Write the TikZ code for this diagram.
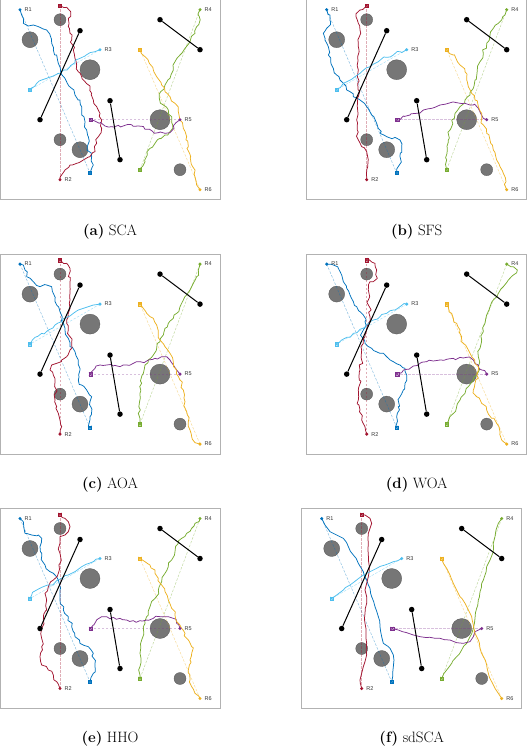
\documentclass[tikz,border=0pt]{standalone}
\usepackage{fontspec}
\newfontfamily\lblfont{Liberation Sans}
\usetikzlibrary{decorations.pathmorphing}
\definecolor{cA}{RGB}{0,114,189}
\definecolor{cB}{RGB}{162,20,47}
\definecolor{cC}{RGB}{77,190,238}
\definecolor{cD}{RGB}{119,172,48}
\definecolor{cE}{RGB}{126,47,142}
\definecolor{cF}{RGB}{237,177,32}
\definecolor{obsfill}{RGB}{118,118,118}
\definecolor{obsedge}{RGB}{85,85,85}
\tikzset{
  panelbox/.style={draw=black!30, line width=0.8pt},
  obst/.style={circle, fill=obsfill, draw=obsedge, line width=0.3pt, inner sep=0pt, minimum size=#1},
  bdot/.style={circle, fill=black, inner sep=0pt, minimum size=5.5pt},
  bseg/.style={line width=1pt, black},
  sdot/.style={circle, fill=#1, inner sep=0pt, minimum size=3.4pt},
  gmark/.style={rectangle, draw=#1, fill=#1!40, inner sep=0pt, minimum size=3.2pt, line width=0.4pt,
    path picture={\draw[#1, line width=0.6pt] (path picture bounding box.south west) -- (path picture bounding box.north east)
      (path picture bounding box.north west) -- (path picture bounding box.south east);}},
  dashln/.style={draw=#1, line width=0.5pt, dash pattern=on 2.5pt off 1.5pt, opacity=0.45},
  rpath/.style={draw=#1, line width=0.75pt, line join=round, decorate,
    decoration={random steps, segment length=4pt, amplitude=1.8pt}},
  spath/.style={draw=#1, line width=0.75pt, line join=round, decorate,
    decoration={random steps, segment length=5pt, amplitude=0.7pt}},
  lbl/.style={font=\lblfont\fontsize{5.5}{6}\selectfont, inner sep=0pt, anchor=west, text=black!80},
  capt/.style={font=\fontsize{15}{18}\selectfont, inner sep=0pt}
}
\newcommand\scenebase[1]{%
  \draw[panelbox] (0,0) rectangle (220,200);
  \node[obst=12pt] (#1o1) at (60,20) {};
  \node[obst=16pt] (#1o2) at (30,40) {};
  \node[obst=20pt] (#1o3) at (90,70) {};
  \node[obst=12pt] (#1o4) at (60,140) {};
  \node[obst=16pt] (#1o5) at (80,150) {};
  \node[obst=20pt] (#1o6) at (160,120) {};
  \node[obst=12pt] (#1o7) at (180,170) {};
  \coordinate (#1S1) at (20,10);   \coordinate (#1G1) at (90,173.3);
  \coordinate (#1S2) at (60,180);  \coordinate (#1G2) at (60,6);
  \coordinate (#1S3) at (100,50);  \coordinate (#1G3) at (30,90);
  \coordinate (#1S4) at (200,10);  \coordinate (#1G4) at (140,170);
  \coordinate (#1S5) at (180,120); \coordinate (#1G5) at (90.5,120);
  \coordinate (#1S6) at (200,190); \coordinate (#1G6) at (140,50);
  \draw[dashln=cA] (#1S1) -- (#1G1);
  \draw[dashln=cB, opacity=0.35] (#1S2) -- (#1G2);
  \draw[dashln=cC] (#1S3) -- (#1G3);
  \draw[dashln=cD] (#1S4) -- (#1G4);
  \draw[dashln=cE, line width=0.9pt, opacity=0.3] (#1S5) -- (#1G5);
  \draw[dashln=cF] (#1S6) -- (#1G6);
}
\newcommand\scenetop[1]{%
  \node[bdot] (#1b1a) at (40,120) {}; \node[bdot] (#1b1b) at (80,31) {};
  \node[bdot] (#1b2a) at (110,101) {}; \node[bdot] (#1b2b) at (120,160) {};
  \node[bdot] (#1b3a) at (160,20) {}; \node[bdot] (#1b3b) at (200,50) {};
  \draw[bseg] (#1b1a) -- (#1b1b);
  \draw[bseg] (#1b2a) -- (#1b2b);
  \draw[bseg] (#1b3a) -- (#1b3b);
  \node[gmark=cA] (#1g1) at (#1G1) {};
  \node[gmark=cB] (#1g2) at (#1G2) {};
  \node[gmark=cC] (#1g3) at (#1G3) {};
  \node[gmark=cD] (#1g4) at (#1G4) {};
  \node[gmark=cE] (#1g5) at (#1G5) {};
  \node[gmark=cF] (#1g6) at (#1G6) {};
  \node[sdot=cA] (#1s1) at (#1S1) {};
  \node[sdot=cB] (#1s2) at (#1S2) {};
  \node[sdot=cC] (#1s3) at (#1S3) {};
  \node[sdot=cD] (#1s4) at (#1S4) {};
  \node[sdot=cE] (#1s5) at (#1S5) {};
  \node[sdot=cF] (#1s6) at (#1S6) {};
  \node[lbl] (#1l1) at ([xshift=4.5pt]#1S1) {R1};
  \node[lbl] (#1l2) at ([xshift=4.5pt]#1S2) {R2};
  \node[lbl] (#1l3) at ([xshift=4.5pt]#1S3) {R3};
  \node[lbl] (#1l4) at ([xshift=4.5pt]#1S4) {R4};
  \node[lbl] (#1l5) at ([xshift=4.5pt]#1S5) {R5};
  \node[lbl] (#1l6) at ([xshift=4.5pt]#1S6) {R6};
}
\begin{document}
\begin{tikzpicture}[x=1pt,y=-1pt]
\pgfmathsetseed{4242}
\useasboundingbox (0,0) rectangle (527,747);
% ---------------- (a) SCA
\begin{scope}[shift={(0,-0.3)}]
\scenebase{a}
\begin{scope}[shift={(0,0.3)},scale=1/3]
\draw[rpath=cA] (aS1) -- (65,45) -- (70,70) -- (85,78) -- (100,75) -- (120,82) -- (140,90) -- (150,105) -- (155,130) -- (160,150) -- (170,165) -- (175,190) -- (182,215) -- (195,235) -- (202,250) -- (215,265) -- (225,285) -- (240,300) -- (245,320) -- (245,345) -- (255,365) -- (260,390) -- (265,410) -- (262,440) -- (275,470) -- (280,495) -- (aG1);
\draw[rpath=cB] (aS2) -- (195,510) -- (210,495) -- (230,490) -- (250,480) -- (270,470) -- (285,455) -- (290,430) -- (295,410) -- (305,385) -- (305,360) -- (300,340) -- (290,320) -- (280,300) -- (275,280) -- (270,258) -- (255,245) -- (245,230) -- (235,215) -- (230,195) -- (225,175) -- (220,150) -- (215,120) -- (210,100) -- (205,80) -- (205,55) -- (212,35) -- (200,22) -- (aG2);
\draw[rpath=cC] (aS3) -- (285,155) -- (270,158) -- (255,168) -- (240,175) -- (225,188) -- (210,200) -- (190,210) -- (175,220) -- (160,228) -- (140,235) -- (125,240) -- (110,250) -- (95,262) -- (aG3);
\draw[rpath=cD] (aS4) -- (598,50) -- (590,80) -- (585,100) -- (570,125) -- (555,145) -- (540,165) -- (525,185) -- (520,210) -- (510,235) -- (495,255) -- (482,275) -- (478,295) -- (490,315) -- (505,330) -- (515,350) -- (518,375) -- (510,395) -- (495,405) -- (480,415) -- (465,430) -- (450,445) -- (442,465) -- (435,485) -- (425,500) -- (aG4);
\draw[rpath=cE] (aS5) -- (528,368) -- (522,385) -- (510,398) -- (495,400) -- (475,398) -- (455,392) -- (435,388) -- (415,378) -- (395,374) -- (375,376) -- (355,376) -- (335,380) -- (315,378) -- (298,370) -- (282,362) -- (aG5);
\draw[rpath=cF] (aS6) -- (590,555) -- (585,530) -- (578,500) -- (572,470) -- (565,440) -- (560,410) -- (550,385) -- (540,360) -- (535,335) -- (525,310) -- (510,290) -- (495,275) -- (485,255) -- (470,230) -- (460,210) -- (448,190) -- (435,170) -- (aG6);
\end{scope}
\scenetop{a}
\end{scope}
\node[capt] (capa) at (110,232) {\textbf{(a)} SCA};
% ---------------- (b) SFS
\begin{scope}[shift={(306.7,-0.3)}]
\scenebase{b}
\begin{scope}[shift={(-46.7,0.3)},scale=1/3]
\draw[rpath=cA] (bS1) -- (210,45) -- (212,65) -- (200,85) -- (190,100) -- (195,120) -- (205,140) -- (205,165) -- (212,185) -- (220,205) -- (230,225) -- (240,240) -- (258,258) -- (270,275) -- (280,290) -- (300,300) -- (320,320) -- (335,345) -- (350,370) -- (360,400) -- (380,410) -- (405,412) -- (420,420) -- (425,440) -- (420,470) -- (418,495) -- (bG1);
\draw[rpath=cB] (bS2) -- (320,510) -- (325,480) -- (320,455) -- (305,440) -- (295,420) -- (292,390) -- (290,360) -- (292,320) -- (295,290) -- (293,250) -- (295,210) -- (293,170) -- (295,140) -- (298,110) -- (300,90) -- (295,70) -- (288,50) -- (300,30) -- (bG2);
\draw[rpath=cC] (bS3) -- (420,155) -- (400,165) -- (380,172) -- (355,185) -- (330,200) -- (305,215) -- (285,230) -- (265,243) -- (250,250) -- (235,262) -- (bG3);
\draw[rpath=cD] (bS4) -- (735,45) -- (725,60) -- (715,70) -- (700,85) -- (690,105) -- (680,130) -- (670,160) -- (660,185) -- (652,210) -- (645,240) -- (640,265) -- (630,285) -- (615,300) -- (600,320) -- (585,340) -- (575,360) -- (570,390) -- (565,420) -- (562,450) -- (560,480) -- (bG4);
\draw[rpath=cE] (bS5) -- (670,355) -- (662,340) -- (655,325) -- (640,315) -- (615,310) -- (590,308) -- (565,310) -- (540,315) -- (515,325) -- (490,330) -- (470,340) -- (450,345) -- (430,348) -- (bG5);
\draw[rpath=cF] (bS6) -- (738,545) -- (730,520) -- (720,500) -- (710,480) -- (700,450) -- (690,420) -- (680,400) -- (670,375) -- (665,355) -- (665,340) -- (655,320) -- (645,300) -- (635,280) -- (625,260) -- (620,240) -- (615,215) -- (600,195) -- (590,180) -- (580,165) -- (bG6);
\end{scope}
\scenetop{b}
\end{scope}
\node[capt] (capb) at (416.7,232) {\textbf{(b)} SFS};
% ---------------- (c) AOA
\begin{scope}[shift={(0,254.1)}]
\scenebase{c}
\begin{scope}[shift={(0,-4.1)},scale=1/3]
\draw[rpath=cA] (cS1) -- (70,45) -- (75,60) -- (80,80) -- (100,95) -- (120,110) -- (140,105) -- (155,110) -- (160,130) -- (170,165) -- (180,185) -- (190,220) -- (195,240) -- (205,265) -- (210,290) -- (225,305) -- (235,330) -- (240,360) -- (235,390) -- (245,405) -- (260,420) -- (275,440) -- (272,470) -- (270,500) -- (cG1);
\draw[rpath=cB] (cS2) -- (185,530) -- (180,510) -- (175,490) -- (170,470) -- (165,450) -- (170,420) -- (165,395) -- (160,375) -- (150,360) -- (155,345) -- (170,340) -- (185,330) -- (200,320) -- (210,300) -- (215,280) -- (210,260) -- (205,240) -- (200,220) -- (205,200) -- (210,175) -- (210,150) -- (210,125) -- (210,100) -- (205,80) -- (210,55) -- (200,40) -- (cG2);
\draw[rpath=cC] (cS3) -- (280,165) -- (265,170) -- (250,175) -- (235,180) -- (220,190) -- (205,200) -- (185,215) -- (165,225) -- (145,240) -- (125,250) -- (105,262) -- (cG3);
\draw[rpath=cD] (cS4) -- (595,60) -- (590,80) -- (580,100) -- (570,120) -- (560,135) -- (550,150) -- (540,170) -- (530,190) -- (520,205) -- (505,220) -- (495,235) -- (490,255) -- (480,275) -- (470,295) -- (460,315) -- (445,330) -- (435,345) -- (430,370) -- (425,400) -- (420,430) -- (418,460) -- (415,490) -- (cG4);
\draw[rpath=cE] (cS5) -- (530,360) -- (520,345) -- (510,330) -- (500,320) -- (485,320) -- (465,325) -- (445,330) -- (420,335) -- (400,340) -- (380,345) -- (360,350) -- (340,348) -- (320,345) -- (300,345) -- (285,355) -- (cG5);
\draw[rpath=cF] (cS6) -- (585,578) -- (575,560) -- (570,540) -- (565,515) -- (560,485) -- (555,455) -- (550,420) -- (540,390) -- (530,360) -- (520,335) -- (510,310) -- (495,290) -- (480,270) -- (475,250) -- (470,225) -- (460,205) -- (440,190) -- (430,175) -- (cG6);
\end{scope}
\scenetop{c}
\end{scope}
\node[capt] (capc) at (110,485) {\textbf{(c)} AOA};
% ---------------- (d) WOA
\begin{scope}[shift={(306.7,254.1)}]
\scenebase{d}
\begin{scope}[shift={(-6.7,-4.1)},scale=1/3]
\draw[rpath=cA] (dS1) -- (100,45) -- (115,55) -- (125,75) -- (130,95) -- (140,115) -- (150,135) -- (160,155) -- (170,170) -- (180,185) -- (190,195) -- (195,215) -- (190,240) -- (185,260) -- (195,280) -- (215,295) -- (240,310) -- (260,320) -- (280,335) -- (300,345) -- (315,355) -- (320,375) -- (315,400) -- (310,420) -- (300,440) -- (295,470) -- (290,500) -- (dG1);
\draw[rpath=cB] (dS2) -- (195,530) -- (185,510) -- (180,480) -- (175,450) -- (175,420) -- (178,390) -- (180,360) -- (185,330) -- (185,300) -- (190,280) -- (195,260) -- (200,240) -- (205,220) -- (210,200) -- (208,170) -- (205,150) -- (205,120) -- (210,95) -- (220,95) -- (232,85) -- (230,60) -- (225,40) -- (210,30) -- (dG2);
\draw[rpath=cC] (dS3) -- (300,170) -- (280,180) -- (260,190) -- (240,200) -- (220,210) -- (200,225) -- (180,238) -- (160,250) -- (140,262) -- (125,270) -- (dG3);
\draw[rpath=cD] (dS4) -- (640,50) -- (652,60) -- (640,75) -- (625,90) -- (610,110) -- (595,130) -- (580,150) -- (570,170) -- (560,195) -- (555,220) -- (550,245) -- (545,270) -- (540,295) -- (535,320) -- (535,350) -- (530,375) -- (520,390) -- (505,410) -- (495,430) -- (480,450) -- (470,470) -- (455,495) -- (dG4);
\draw[rpath=cE] (dS5) -- (545,360) -- (535,345) -- (520,330) -- (500,322) -- (480,322) -- (460,325) -- (440,328) -- (420,330) -- (400,333) -- (380,335) -- (360,340) -- (340,348) -- (320,358) -- (305,368) -- (dG5);
\draw[rpath=cF] (dS6) -- (605,570) -- (600,545) -- (590,520) -- (575,505) -- (560,480) -- (545,460) -- (530,440) -- (520,420) -- (525,400) -- (535,385) -- (535,360) -- (525,340) -- (515,320) -- (505,300) -- (490,280) -- (485,260) -- (480,240) -- (470,220) -- (460,205) -- (455,190) -- (445,170) -- (dG6);
\end{scope}
\scenetop{d}
\end{scope}
\node[capt] (capd) at (416.7,485) {\textbf{(d)} WOA};
% ---------------- (e) HHO
\begin{scope}[shift={(0,508.5)}]
\scenebase{e}
\begin{scope}[shift={(0,-8.5)},scale=1/3]
\draw[rpath=cA] (eS1) -- (70,65) -- (72,85) -- (75,100) -- (95,105) -- (115,105) -- (125,115) -- (120,140) -- (125,170) -- (135,195) -- (150,215) -- (165,225) -- (175,240) -- (180,270) -- (180,300) -- (190,330) -- (205,350) -- (215,380) -- (225,410) -- (240,430) -- (265,440) -- (280,460) -- (285,490) -- (280,520) -- (eG1);
\draw[rpath=cB] (eS2) -- (170,545) -- (160,525) -- (145,510) -- (125,495) -- (120,470) -- (125,440) -- (125,415) -- (125,385) -- (130,360) -- (140,330) -- (140,300) -- (135,280) -- (145,260) -- (160,240) -- (175,220) -- (180,190) -- (180,160) -- (180,130) -- (180,110) -- (195,105) -- (205,95) -- (210,80) -- (205,65) -- (195,55) -- (eG2);
\draw[rpath=cC] (eS3) -- (280,185) -- (260,192) -- (245,200) -- (225,215) -- (205,225) -- (185,235) -- (170,242) -- (150,255) -- (125,262) -- (110,270) -- (95,285) -- (eG3);
\draw[rpath=cD] (eS4) -- (585,70) -- (575,85) -- (560,100) -- (545,115) -- (535,130) -- (525,155) -- (515,180) -- (505,200) -- (495,220) -- (485,245) -- (475,270) -- (465,295) -- (450,320) -- (440,350) -- (430,380) -- (425,420) -- (420,460) -- (420,500) -- (eG4);
\draw[rpath=cE] (eS5) -- (530,370) -- (520,355) -- (505,350) -- (480,350) -- (460,355) -- (440,360) -- (420,362) -- (400,362) -- (380,360) -- (360,355) -- (340,352) -- (320,350) -- (305,350) -- (290,360) -- (280,375) -- (eG5);
\draw[rpath=cF] (eS6) -- (585,580) -- (575,560) -- (570,540) -- (565,510) -- (570,480) -- (575,460) -- (575,440) -- (565,420) -- (555,400) -- (545,385) -- (530,365) -- (525,345) -- (515,325) -- (505,300) -- (495,275) -- (485,255) -- (475,235) -- (465,210) -- (450,195) -- (435,185) -- (eG6);
\end{scope}
\scenetop{e}
\end{scope}
\node[capt] (cape) at (110,739) {\textbf{(e)} HHO};
% ---------------- (f) sdSCA
\begin{scope}[shift={(301.7,508.5)}]
\scenebase{f}
\begin{scope}[shift={(-1.7,-8.5)},scale=1/3]
\draw[spath=cA] (fS1) -- (75,75) -- (90,95) -- (110,105) -- (130,115) -- (145,140) -- (160,165) -- (175,190) -- (190,215) -- (200,240) -- (210,265) -- (215,290) -- (225,320) -- (235,350) -- (240,380) -- (245,410) -- (250,430) -- (270,445) -- (280,465) -- (280,500) -- (278,530) -- (fG1);
\draw[spath=cB] (fS2) -- (180,540) -- (185,520) -- (190,500) -- (195,485) -- (200,465) -- (200,430) -- (198,400) -- (195,370) -- (195,340) -- (200,310) -- (200,290) -- (195,270) -- (200,250) -- (205,230) -- (208,200) -- (205,165) -- (205,130) -- (205,100) -- (210,85) -- (215,70) -- (210,55) -- (195,45) -- (fG2);
\draw[spath=cC] (fS3) -- (280,185) -- (255,195) -- (230,205) -- (210,215) -- (190,225) -- (170,240) -- (150,255) -- (130,270) -- (110,285) -- (fG3);
\draw[spath=cD] (fS4) -- (595,70) -- (588,90) -- (585,110) -- (580,130) -- (580,155) -- (570,180) -- (560,200) -- (555,225) -- (545,250) -- (540,275) -- (535,300) -- (530,325) -- (525,355) -- (520,385) -- (510,410) -- (500,430) -- (485,450) -- (470,470) -- (455,490) -- (440,510) -- (fG4);
\draw[spath=cE] (fS5) -- (525,395) -- (520,410) -- (510,425) -- (490,430) -- (470,428) -- (450,420) -- (420,415) -- (390,412) -- (360,410) -- (340,405) -- (320,398) -- (295,390) -- (fG5);
\draw[spath=cF] (fS6) -- (595,580) -- (585,565) -- (575,545) -- (565,520) -- (560,495) -- (550,470) -- (540,445) -- (535,420) -- (525,400) -- (520,375) -- (515,350) -- (505,330) -- (495,310) -- (480,290) -- (470,270) -- (460,250) -- (450,225) -- (440,205) -- (430,190) -- (fG6);
\end{scope}
\scenetop{f}
\end{scope}
\node[capt] (capf) at (411.7,739) {\textbf{(f)} sdSCA};
\end{tikzpicture}
\end{document}
